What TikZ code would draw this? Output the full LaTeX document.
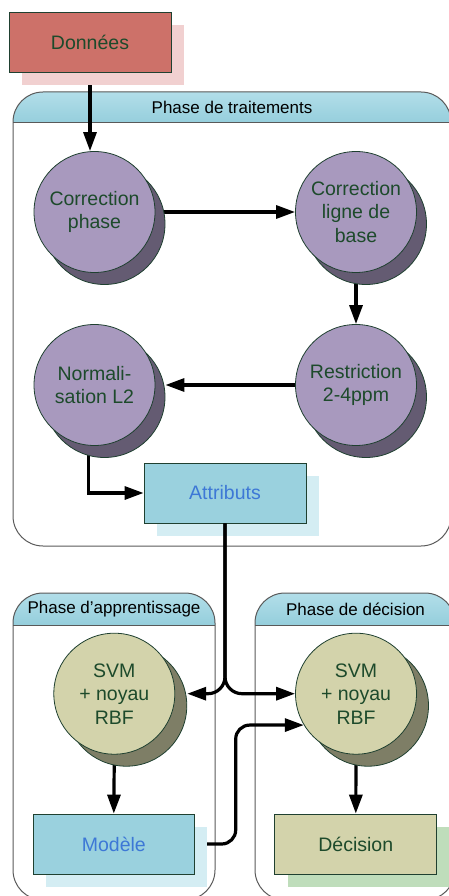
\documentclass[tikz,border=0pt]{standalone}
\usepackage{fontspec}
\setmainfont{Liberation Sans}
\usetikzlibrary{arrows.meta,shadows,calc}
\pgfdeclarelayer{panels}
\pgfdeclarelayer{conn}
\pgfsetlayers{panels,conn,main}
\definecolor{txtgreen}{HTML}{1D4A2B}
\definecolor{bordgreen}{HTML}{1F4030}
\definecolor{redbox}{HTML}{CD7169}
\definecolor{redshadow}{HTML}{F1D0D0}
\definecolor{purplefill}{HTML}{A899BE}
\definecolor{purpleshadow}{HTML}{645B72}
\definecolor{khaki}{HTML}{D3D3AB}
\definecolor{khakishadow}{HTML}{7E7E66}
\definecolor{bluebox}{HTML}{9AD1DE}
\definecolor{blueshadow}{HTML}{D4EDF3}
\definecolor{bluetext}{HTML}{3D78D6}
\definecolor{greenshadow}{HTML}{BFDDBB}
\definecolor{headtop}{HTML}{B2DEE9}
\definecolor{headbot}{HTML}{95CEDC}
\tikzset{
  mainfont/.style={font=\fontsize{19.5}{23.5}\selectfont},
  procbox/.style={rectangle, draw=bordgreen, line width=0.8pt, minimum width=162pt,
    minimum height=60pt, inner sep=0pt, mainfont, align=center},
  proccirc/.style={circle, draw=bordgreen, line width=0.8pt, minimum size=121pt,
    inner sep=0pt, mainfont, align=center, text=txtgreen},
  purplecirc/.style={proccirc, fill=purplefill,
    general shadow={fill=purpleshadow, draw=bordgreen, line width=0.8pt,
      shadow xshift=10pt, shadow yshift=-12pt}},
  khakicirc/.style={proccirc, fill=khaki,
    general shadow={fill=khakishadow, draw=bordgreen, line width=0.8pt,
      shadow xshift=12pt, shadow yshift=-12pt}},
  boxshadow/.style={general shadow={fill=#1, shadow xshift=13pt, shadow yshift=-13pt}},
  conn/.style={line width=3.2pt, -{Triangle[length=19pt,width=13pt]}},
  panelline/.style={draw=black!65, line width=1pt},
  headtxt/.style={font=\fontsize{17}{20}\selectfont},
}
\begin{document}
\begin{tikzpicture}[x=1pt,y=-1pt]
\useasboundingbox (0,0) rectangle (449,896);
\clip (0,0) rectangle (449,896);

% ---------- panels ----------
\begin{pgfonlayer}{panels}
  \begin{scope}
    \clip[rounded corners=30pt] (13,92) rectangle (451,546);
    \shade[top color=headtop, bottom color=headbot] (13,92) rectangle (451,123);
  \end{scope}
  \draw[panelline] (13,123) -- (451,123);
  \draw[panelline, rounded corners=30pt] (13,92) rectangle (451,546);
  \node[headtxt] (h1) at (232,107.5) {Phase de traitements};

  \begin{scope}
    \clip[rounded corners=30pt] (13,593) rectangle (215,900);
    \shade[top color=headtop, bottom color=headbot] (13,593) rectangle (215,625);
  \end{scope}
  \draw[panelline] (13,625) -- (215,625);
  \draw[panelline, rounded corners=30pt] (13,593) rectangle (215,900);
  \node[headtxt] (h2) at (114,609.5) {Phase d’apprentissage};

  \begin{scope}
    \clip[rounded corners=30pt] (255,593) rectangle (455,900);
    \shade[top color=headtop, bottom color=headbot] (255,593) rectangle (455,625);
  \end{scope}
  \draw[panelline] (255,625) -- (455,625);
  \draw[panelline, rounded corners=30pt] (255,593) rectangle (455,900);
  \node[headtxt] (h3) at (355.5,609.5) {Phase de décision};
\end{pgfonlayer}

% ---------- nodes ----------
\node[procbox, fill=redbox, text=txtgreen, boxshadow=redshadow] (donnees) at (90,42) {Données};
\node[purplecirc] (cphase) at (94.5,212) {Correction\\phase};
\node[purplecirc] (cligne) at (356,212) {Correction\\ligne de\\base};
\node[purplecirc] (restr) at (356,385) {Restriction\\2-4ppm};
\node[purplecirc] (norm) at (94.5,385) {Normali-\\sation L2};
\node[procbox, fill=bluebox, text=bluetext, boxshadow=blueshadow] (attr) at (225,493) {Attributs};
\node[khakicirc] (svmL) at (114.3,693.7) {SVM\\+ noyau\\RBF};
\node[khakicirc] (svmR) at (356,693.7) {SVM\\+ noyau\\RBF};
\node[procbox, minimum width=161pt, fill=bluebox, text=bluetext, boxshadow=blueshadow] (modele) at (113.8,844) {Modèle};
\node[procbox, fill=khaki, text=txtgreen, boxshadow=greenshadow] (decision) at (355.8,844) {Décision};

% ---------- connectors ----------
\begin{pgfonlayer}{conn}
  \draw[conn] (donnees.south) -- (donnees.south |- cphase.north);
  \draw[conn] (cphase.east) -- (cligne.west);
  \draw[conn] (cligne.south) -- (restr.north);
  \draw[conn] (restr.west) -- ([xshift=10pt]norm.east);
  \draw[conn] ([xshift=-6pt]norm.south) |- (attr.west);
  \draw[conn] (svmL.south) -- (modele.north);
  \draw[conn] (svmR.south) -- (decision.north);
  \draw[conn, rounded corners=14pt] (modele.east) -- ++(41,0) |- (svmR.211);
\end{pgfonlayer}
\draw[conn, rounded corners=17pt] (attr.south) |- ([xshift=12pt]svmL.east);
\draw[conn, rounded corners=17pt] (attr.south) |- (svmR.west);
\end{tikzpicture}
\end{document}
